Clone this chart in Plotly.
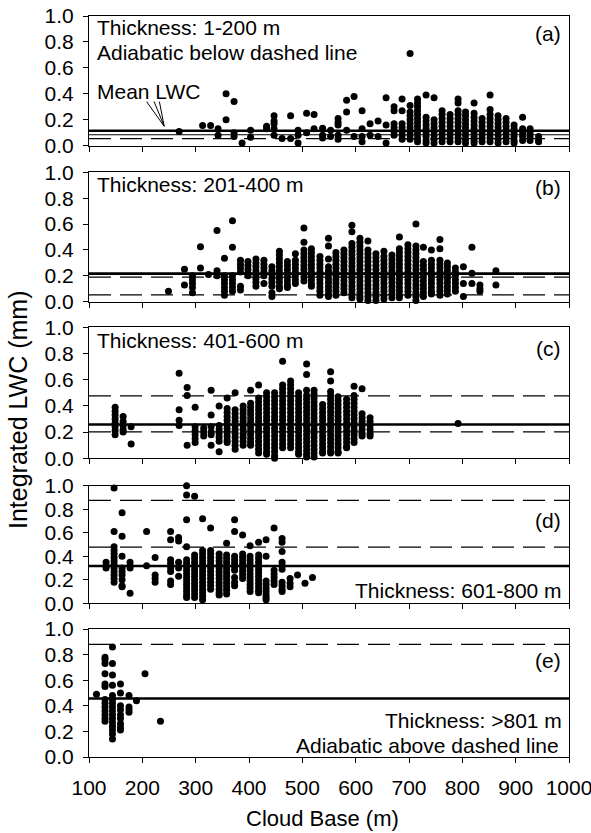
import plotly.graph_objects as go

# ---------------- data (cloud base m, integrated LWC mm) ----------------
A_COLS = [
    (269, [0.11]), (313, [0.155]), (328, [0.155]), (342, [0.13, 0.08]),
    (357, [0.40, 0.20]), (372, [0.34, 0.10, 0.07]), (387, [0.02]),
    (403, [0.12, 0.065]), (433, [0.15, 0.13]), (447, [0.23, 0.19, 0.17, 0.13, 0.08]),
    (462, [0.055]), (478, [0.23, 0.055]), (492, [0.12, 0.08, 0.02]),
    (508, [0.25, 0.10]), (522, [0.24, 0.13]), (538, [0.135, 0.08, 0.06]),
    (553, [0.12, 0.07]), (567, [0.21, 0.18, 0.16, 0.08, 0.05]),
    (583, [0.35, 0.26, 0.12]), (597, [0.38, 0.07]), (612, [0.27, 0.13, 0.07, 0.03]),
    (627, [0.17, 0.08]), (642, [0.19, 0.07]), (657, [0.37, 0.16, 0.02]),
    (672, [0.30, 0.27, 0.17, 0.14, 0.11, 0.08]),
    (687, [0.36, 0.27, 0.17, 0.14, 0.11, 0.08, 0.05]),
    (702, [0.71, 0.31, 0.26, 0.23, 0.20, 0.17, 0.14, 0.11, 0.08, 0.05]),
    (716, [0.36, 0.33, 0.30, 0.27, 0.24, 0.21, 0.18, 0.15, 0.12, 0.09, 0.06, 0.03]),
    (732, [0.39, 0.22, 0.19, 0.16, 0.13, 0.10, 0.07, 0.04, 0.02]),
    (747, [0.37, 0.20, 0.17, 0.14, 0.11, 0.08, 0.05, 0.02]),
    (762, [0.27, 0.24, 0.21, 0.18, 0.15, 0.12, 0.09, 0.06, 0.03]),
    (777, [0.24, 0.21, 0.18, 0.15, 0.12, 0.09, 0.06, 0.03]),
    (792, [0.36, 0.33, 0.27, 0.24, 0.21, 0.18, 0.15, 0.12, 0.09, 0.06, 0.03]),
    (806, [0.26, 0.23, 0.20, 0.17, 0.14, 0.11, 0.08, 0.05, 0.02]),
    (822, [0.33, 0.25, 0.22, 0.19, 0.16, 0.13, 0.10, 0.07, 0.04, 0.02]),
    (837, [0.21, 0.18, 0.15, 0.12, 0.09, 0.06, 0.03]),
    (852, [0.39, 0.28, 0.24, 0.21, 0.18, 0.15, 0.12, 0.09, 0.06, 0.03]),
    (867, [0.23, 0.20, 0.17, 0.14, 0.11, 0.08, 0.05, 0.02]),
    (882, [0.21, 0.18, 0.15, 0.12, 0.09, 0.06, 0.03]),
    (897, [0.16, 0.13, 0.10, 0.07, 0.04, 0.02]),
    (913, [0.22, 0.13, 0.10, 0.07, 0.04]),
    (927, [0.13, 0.10, 0.07, 0.04]),
    (943, [0.07, 0.04, 0.03]),
]

B_COLS = [
    (249, [0.08]), (279, [0.25, 0.13]), (294, [0.20, 0.17, 0.14, 0.11, 0.07]),
    (309, [0.425, 0.26]), (324, [0.21]), (340, [0.55, 0.24, 0.20]),
    (354, [0.335, 0.20, 0.17, 0.14, 0.11, 0.08, 0.05]),
    (369, [0.625, 0.42, 0.20, 0.17, 0.14, 0.11, 0.08]),
    (384, [0.32, 0.29, 0.26, 0.23, 0.12, 0.09]),
    (398, [0.31, 0.28, 0.25, 0.22, 0.20]),
    (413, [0.33, 0.30, 0.27, 0.24, 0.21, 0.18, 0.15, 0.12]),
    (428, [0.32, 0.29, 0.26, 0.23, 0.20, 0.14]),
    (443, [0.27, 0.24, 0.21, 0.18, 0.15, 0.12, 0.07, 0.04]),
    (457, [0.39, 0.36, 0.33, 0.30, 0.27, 0.24, 0.21, 0.18, 0.15, 0.12, 0.10]),
    (472, [0.31, 0.28, 0.25, 0.22, 0.19, 0.16, 0.13, 0.11]),
    (487, [0.37, 0.32, 0.29, 0.26, 0.23, 0.20, 0.17, 0.14]),
    (503, [0.57, 0.46, 0.40, 0.37, 0.34, 0.31, 0.28, 0.25, 0.22, 0.19, 0.16]),
    (517, [0.41, 0.38, 0.35, 0.32, 0.29, 0.26, 0.23, 0.20, 0.17, 0.14, 0.12]),
    (533, [0.35, 0.32, 0.29, 0.26, 0.23, 0.20, 0.17, 0.14, 0.11, 0.08, 0.05]),
    (549, [0.49, 0.43, 0.33, 0.27, 0.24, 0.21, 0.18, 0.15, 0.12, 0.09, 0.06, 0.04]),
    (563, [0.38, 0.35, 0.32, 0.29, 0.26, 0.23, 0.20, 0.17, 0.14, 0.11, 0.08, 0.05]),
    (578, [0.40, 0.37, 0.34, 0.31, 0.28, 0.25, 0.22, 0.19, 0.16, 0.13, 0.10, 0.07]),
    (593, [0.59, 0.54, 0.45, 0.42, 0.39, 0.36, 0.33, 0.30, 0.27, 0.24, 0.21, 0.18,
           0.15, 0.12, 0.09, 0.06, 0.03]),
    (608, [0.49, 0.46, 0.43, 0.40, 0.37, 0.34, 0.31, 0.28, 0.25, 0.22, 0.19, 0.16,
           0.13, 0.10, 0.07, 0.04, 0.02]),
    (623, [0.47, 0.40, 0.37, 0.34, 0.31, 0.28, 0.25, 0.22, 0.19, 0.16, 0.13, 0.10,
           0.07, 0.04, 0.01]),
    (638, [0.37, 0.34, 0.31, 0.28, 0.25, 0.22, 0.19, 0.16, 0.13, 0.10, 0.07, 0.04, 0.01]),
    (653, [0.39, 0.35, 0.32, 0.29, 0.26, 0.23, 0.20, 0.17, 0.14, 0.11, 0.08, 0.05, 0.02]),
    (668, [0.36, 0.33, 0.30, 0.27, 0.24, 0.21, 0.18, 0.15, 0.12, 0.09, 0.06, 0.03]),
    (682, [0.50, 0.41, 0.38, 0.35, 0.32, 0.29, 0.26, 0.23, 0.20, 0.17, 0.14, 0.11,
           0.08, 0.05, 0.03]),
    (698, [0.44, 0.41, 0.38, 0.35, 0.32, 0.29, 0.26, 0.23, 0.20, 0.17, 0.14, 0.11,
           0.08, 0.05]),
    (713, [0.60, 0.43, 0.40, 0.37, 0.34, 0.31, 0.28, 0.25, 0.22, 0.19, 0.16, 0.13,
           0.10, 0.07, 0.04, 0.01]),
    (727, [0.42, 0.31, 0.28, 0.25, 0.22, 0.19, 0.16, 0.13, 0.10, 0.07, 0.04]),
    (742, [0.40, 0.32, 0.29, 0.26, 0.23, 0.20, 0.17, 0.14, 0.11, 0.08, 0.06]),
    (758, [0.48, 0.41, 0.32, 0.29, 0.26, 0.23, 0.20, 0.17, 0.14, 0.11, 0.08, 0.05]),
    (772, [0.30, 0.27, 0.24, 0.21, 0.18, 0.15, 0.12, 0.09, 0.06]),
    (787, [0.26, 0.23, 0.20, 0.17, 0.14, 0.11, 0.08]),
    (802, [0.27, 0.14, 0.04]), (818, [0.42, 0.22, 0.14]),
    (833, [0.13, 0.10, 0.08]), (863, [0.24, 0.13]),
]

C_COLS = [
    (149, [0.39, 0.36, 0.33, 0.30, 0.27, 0.24, 0.21, 0.18]),
    (164, [0.32, 0.28, 0.25, 0.22, 0.20]), (179, [0.24, 0.11]),
    (269, [0.65, 0.37, 0.29, 0.25]), (284, [0.54, 0.48, 0.10]),
    (299, [0.39, 0.24, 0.21, 0.18, 0.15, 0.12]), (315, [0.23, 0.20, 0.17]),
    (329, [0.52, 0.33, 0.24, 0.20, 0.18, 0.10]),
    (344, [0.40, 0.25, 0.22, 0.19, 0.16, 0.13, 0.05]),
    (359, [0.46, 0.38, 0.35, 0.32, 0.29, 0.26, 0.23, 0.20, 0.17, 0.14, 0.12]),
    (374, [0.50, 0.37, 0.34, 0.31, 0.28, 0.25, 0.22, 0.19, 0.16, 0.13, 0.10, 0.07]),
    (389, [0.40, 0.37, 0.34, 0.31, 0.28, 0.25, 0.22, 0.19, 0.16, 0.13, 0.10]),
    (403, [0.52, 0.42, 0.39, 0.36, 0.33, 0.30, 0.27, 0.24, 0.21, 0.18, 0.15, 0.12, 0.10]),
    (418, [0.56, 0.46, 0.43, 0.40, 0.37, 0.34, 0.31, 0.28, 0.25, 0.22, 0.19, 0.16,
           0.13, 0.10, 0.07, 0.04]),
    (433, [0.50, 0.47, 0.44, 0.41, 0.38, 0.35, 0.32, 0.29, 0.26, 0.23, 0.20, 0.17,
           0.14, 0.11, 0.08, 0.05, 0.03]),
    (448, [0.50, 0.47, 0.44, 0.41, 0.38, 0.35, 0.32, 0.29, 0.26, 0.23, 0.20, 0.17,
           0.14, 0.11, 0.08, 0.05, 0.02, 0.0]),
    (463, [0.74, 0.56, 0.53, 0.50, 0.47, 0.44, 0.41, 0.38, 0.35, 0.32, 0.29, 0.26,
           0.23, 0.20, 0.17, 0.14, 0.11, 0.08]),
    (478, [0.59, 0.56, 0.53, 0.50, 0.47, 0.44, 0.41, 0.38, 0.35, 0.32, 0.29, 0.26,
           0.23, 0.20, 0.17, 0.14, 0.11, 0.08]),
    (493, [0.50, 0.47, 0.44, 0.41, 0.38, 0.35, 0.32, 0.29, 0.26, 0.23, 0.20, 0.17,
           0.14, 0.11, 0.08, 0.05, 0.03]),
    (508, [0.72, 0.64, 0.52, 0.48, 0.45, 0.42, 0.39, 0.36, 0.33, 0.30, 0.27, 0.24,
           0.21, 0.18, 0.15, 0.12, 0.09, 0.06, 0.03, 0.01]),
    (522, [0.52, 0.49, 0.46, 0.43, 0.40, 0.37, 0.34, 0.31, 0.28, 0.25, 0.22, 0.19,
           0.16, 0.13, 0.10, 0.07, 0.04, 0.01]),
    (538, [0.41, 0.38, 0.35, 0.32, 0.29, 0.26, 0.23, 0.20, 0.17, 0.14, 0.11, 0.08,
           0.05, 0.04]),
    (553, [0.66, 0.59, 0.51, 0.48, 0.45, 0.42, 0.39, 0.36, 0.33, 0.30, 0.27, 0.24,
           0.21, 0.18, 0.15, 0.12, 0.09, 0.06, 0.04]),
    (567, [0.47, 0.44, 0.41, 0.38, 0.35, 0.32, 0.29, 0.26, 0.23, 0.20, 0.17, 0.14,
           0.11, 0.08, 0.05, 0.04]),
    (583, [0.45, 0.42, 0.39, 0.36, 0.33, 0.30, 0.27, 0.24, 0.21, 0.18, 0.15, 0.12,
           0.09, 0.08]),
    (597, [0.55, 0.48, 0.45, 0.42, 0.39, 0.36, 0.33, 0.30, 0.27, 0.24, 0.21, 0.18,
           0.15, 0.12]),
    (612, [0.53, 0.34, 0.31, 0.28, 0.25, 0.22, 0.19, 0.17]),
    (627, [0.31, 0.28, 0.25, 0.22, 0.19, 0.17]),
    (792, [0.265]),
]

D_COLS = [
    (132, [0.35, 0.32, 0.30]),
    (147, [0.98, 0.61, 0.48, 0.45, 0.42, 0.39, 0.36, 0.33, 0.30, 0.27, 0.24, 0.21, 0.18]),
    (162, [0.77, 0.57, 0.40, 0.30, 0.27, 0.24, 0.20, 0.15, 0.14]),
    (177, [0.35, 0.32, 0.30, 0.085]),
    (208, [0.61, 0.32]), (224, [0.39, 0.24, 0.21, 0.18]),
    (253, [0.61, 0.54, 0.37, 0.34, 0.30, 0.27, 0.19, 0.16]),
    (268, [0.56, 0.53, 0.35, 0.30, 0.23]),
    (283, [1.0, 0.92, 0.71, 0.48, 0.37, 0.34, 0.31, 0.28, 0.25, 0.22, 0.19, 0.16,
           0.13, 0.10, 0.07, 0.05]),
    (298, [0.91, 0.41, 0.38, 0.35, 0.32, 0.29, 0.26, 0.23, 0.20, 0.17, 0.14, 0.11,
           0.08, 0.05]),
    (313, [0.72, 0.45, 0.42, 0.39, 0.36, 0.33, 0.30, 0.27, 0.24, 0.21, 0.18, 0.15,
           0.12, 0.09, 0.06, 0.03]),
    (328, [0.64, 0.45, 0.42, 0.39, 0.36, 0.33, 0.30, 0.27, 0.24, 0.21, 0.18, 0.15, 0.12]),
    (344, [0.42, 0.39, 0.36, 0.33, 0.30, 0.27, 0.24, 0.21, 0.18, 0.15, 0.12, 0.09, 0.07]),
    (358, [0.51, 0.41, 0.38, 0.35, 0.32, 0.29, 0.26, 0.23, 0.20, 0.17, 0.14, 0.11, 0.08]),
    (373, [0.71, 0.61, 0.40, 0.37, 0.34, 0.31, 0.28, 0.22, 0.18, 0.15]),
    (388, [0.58, 0.42, 0.39, 0.36, 0.33, 0.30, 0.27, 0.24, 0.21]),
    (402, [0.49, 0.40, 0.37, 0.34, 0.31, 0.28, 0.25, 0.22, 0.19, 0.16, 0.13, 0.10]),
    (418, [0.52, 0.41, 0.38, 0.35, 0.32, 0.29, 0.26, 0.23, 0.20, 0.17, 0.14, 0.11, 0.09]),
    (432, [0.54, 0.40, 0.19, 0.16, 0.13, 0.10, 0.07, 0.05, 0.03]),
    (447, [0.64, 0.28, 0.25, 0.22, 0.19, 0.16]),
    (462, [0.55, 0.52, 0.44, 0.35, 0.32, 0.29, 0.18, 0.15, 0.12, 0.10]),
    (477, [0.21, 0.17, 0.14]), (491, [0.24]), (505, [0.17]), (519, [0.22]),
]

E_COLS = [
    (114, [0.49]),
    (130, [0.78, 0.76, 0.73, 0.65, 0.57, 0.55, 0.45, 0.42, 0.39, 0.36, 0.33, 0.30, 0.28]),
    (144, [0.86, 0.73, 0.64, 0.56, 0.48, 0.45, 0.42, 0.39, 0.36, 0.33, 0.30, 0.27,
           0.24, 0.21, 0.18, 0.14]),
    (159, [0.57, 0.50, 0.40, 0.37, 0.33, 0.30, 0.26, 0.23, 0.21]),
    (175, [0.48, 0.39, 0.37, 0.35]),
    (189, [0.44]), (205, [0.65]), (234, [0.28]),
]

PANEL_COLS = [A_COLS, B_COLS, C_COLS, D_COLS, E_COLS]
MEAN_LWC = [0.115, 0.217, 0.258, 0.317, 0.457]
EXTRA_SOLID = [[0.085], [], [], [], []]
ADIABATIC = [[0.054], [0.19, 0.052], [0.476, 0.202], [0.875, 0.477], [0.88]]
PANEL_LABELS = ["(a)", "(b)", "(c)", "(d)", "(e)"]
X_TICKS = [100, 200, 300, 400, 500, 600, 700, 800, 900, 1000]
Y_TICKS = [0.0, 0.2, 0.4, 0.6, 0.8, 1.0]

# ---------------- figure ----------------
FONT = "Liberation Sans, Arial, Helvetica, sans-serif"
W, H = 591, 833
ML, MR, MT, MB = 89, 22, 16, 76
PH = H - MT - MB
TICK_SIZE = 21
NOTE_SIZE = 21
YTITLE_SIZE = 25
XTITLE_SIZE = 22


def ypaper(px):
    return (H - MB - px) / PH


def xpaper(px):
    return (px - ML) / (W - ML - MR)


# panel (top px, bottom px) and label y positions
PANEL_PX = [(15.7, 145.7), (172.3, 301.7), (327.3, 458.3), (485.7, 603.3), (629.0, 757.0)]
LABEL_Y = [33, 188, 348, 520, 660]

fig = go.Figure()
shapes = []
annotations = []

for i, cols in enumerate(PANEL_COLS):
    n = i + 1
    xs, ys = [], []
    for x, yl in cols:
        for y in yl:
            xs.append(x)
            ys.append(y)
    xa = "x" if n == 1 else f"x{n}"
    ya = "y" if n == 1 else f"y{n}"
    fig.add_trace(go.Scatter(
        x=xs, y=ys, mode="markers", xaxis=xa, yaxis=ya,
        marker=dict(size=7, color="black", line=dict(width=0)),
        cliponaxis=False, showlegend=False, hoverinfo="skip"))

    top, bot = PANEL_PX[i]
    dom = [max(0.0, ypaper(bot)), min(1.0, ypaper(top))]
    fig.layout[f"xaxis{'' if n == 1 else n}"] = dict(
        domain=[0, 1], anchor=ya, range=[100, 1000], tickvals=X_TICKS,
        ticktext=[str(v) for v in X_TICKS], ticklabeloverflow="allow",
        automargin=False,
        ticks="outside", ticklen=5, tickwidth=1, tickcolor="black",
        showline=True, linecolor="black", linewidth=1, mirror=True,
        showgrid=False, zeroline=False, showticklabels=(n == 5),
        ticklabelstandoff=7,
        tickfont=dict(size=TICK_SIZE, family=FONT, color="black"))
    fig.layout[f"yaxis{'' if n == 1 else n}"] = dict(
        domain=dom, anchor=xa, range=[0, 1], tickvals=Y_TICKS,
        automargin=False,
        tickformat=".1f", ticks="outside", ticklen=5, tickwidth=1, tickcolor="black",
        showline=True, linecolor="black", linewidth=1, mirror=True,
        showgrid=False, zeroline=False, ticklabelstandoff=5,
        tickfont=dict(size=TICK_SIZE, family=FONT, color="black"))

    shapes.append(dict(type="line", xref=xa, yref=ya, x0=100, x1=1000,
                       y0=MEAN_LWC[i], y1=MEAN_LWC[i],
                       line=dict(color="black", width=2.6), layer="below"))
    for v in EXTRA_SOLID[i]:
        shapes.append(dict(type="line", xref=xa, yref=ya, x0=100, x1=1000,
                           y0=v, y1=v, line=dict(color="black", width=1.1), layer="below"))
    for v in ADIABATIC[i]:
        shapes.append(dict(type="line", xref=xa, yref=ya, x0=100, x1=1000,
                           y0=v, y1=v, line=dict(color="black", width=1.2, dash="22px,9px"),
                           layer="below"))

    annotations.append(dict(text=PANEL_LABELS[i], xref="paper", yref="paper",
                            x=xpaper(563), y=ypaper(LABEL_Y[i]), xanchor="right",
                            yanchor="middle", showarrow=False,
                            font=dict(size=NOTE_SIZE, family=FONT, color="black")))


def note(text, xpx, ypx, anchor="left"):
    annotations.append(dict(text=text, xref="paper", yref="paper", x=xpaper(xpx),
                            y=ypaper(ypx), xanchor=anchor, yanchor="middle",
                            showarrow=False,
                            font=dict(size=NOTE_SIZE, family=FONT, color="black")))


note("Thickness: 1-200 m", 95, 27)
note("Adiabatic below dashed line", 95, 52)
note("Mean LWC", 95, 92)
note("Thickness: 201-400 m", 95, 184)
note("Thickness: 401-600 m", 95, 340)
note("Thickness: 601-800 m", 564, 590, "right")
note("Thickness: >801 m", 564, 720, "right")
note("Adiabatic above dashed line", 561, 745, "right")

# Mean LWC pointer (three converging strokes)
for sx in [208.0, 222.0, 232.0]:
    shapes.append(dict(type="line", xref="x", yref="y", x0=sx, y0=0.34, x1=241, y1=0.15,
                       line=dict(color="black", width=1)))

annotations.append(dict(text="Integrated LWC (mm)", xref="paper", yref="paper",
                        x=xpaper(18), y=ypaper(410), textangle=-90, showarrow=False,
                        xanchor="center", yanchor="middle",
                        font=dict(size=YTITLE_SIZE, family=FONT, color="black")))
annotations.append(dict(text="Cloud Base (m)", xref="paper", yref="paper",
                        x=xpaper(322), y=ypaper(818), showarrow=False,
                        xanchor="center", yanchor="middle",
                        font=dict(size=XTITLE_SIZE, family=FONT, color="black")))

fig.update_layout(
    width=W, height=H, margin=dict(l=ML, r=MR, t=MT, b=MB, pad=0, autoexpand=False),
    paper_bgcolor="white", plot_bgcolor="white",
    shapes=shapes, annotations=annotations, showlegend=False,
    font=dict(family=FONT, color="black"))

fig.write_html("out.html")
